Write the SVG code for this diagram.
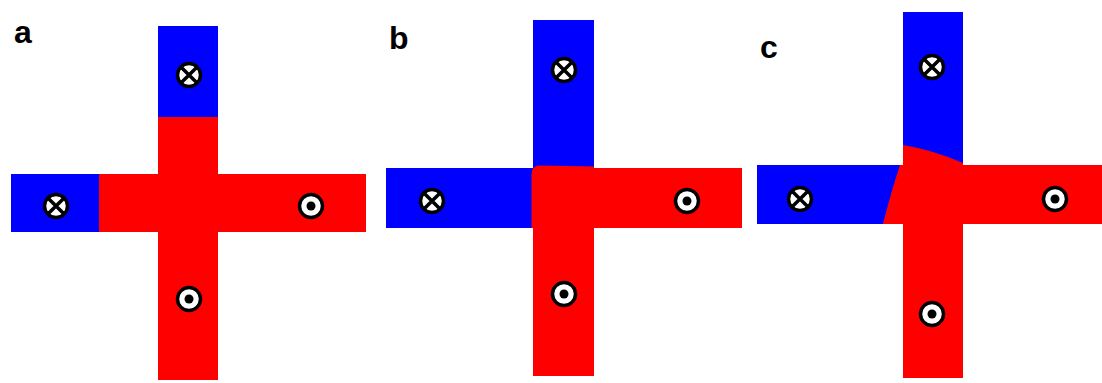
<svg xmlns="http://www.w3.org/2000/svg" width="1102" height="383" viewBox="0 0 1102 383">
<defs>
<style>
.blue{fill:#0000ff}
.red{fill:#ff0000}
.ring{fill:#ffffff;stroke:#000000;stroke-width:3.5}
.x{stroke:#000000;stroke-width:3.5;fill:none}
.dot{fill:#000000}
.lbl{font-family:"Liberation Sans",Arial,sans-serif;font-weight:bold;font-size:32px;fill:#000000}
</style>
<g id="into">
<circle class="ring" cx="0" cy="0" r="11.5"/>
<path class="x" d="M-8.1,-8.1 L8.1,8.1 M8.1,-8.1 L-8.1,8.1"/>
</g>
<g id="outof">
<circle class="ring" cx="0" cy="0" r="11.5"/>
<circle class="dot" cx="0" cy="0" r="4.5"/>
</g>
</defs>
<rect width="1102" height="383" fill="#ffffff"/>

<g id="panel-a">
<text class="lbl" x="14" y="43">a</text>
<rect class="red" x="158" y="116" width="60" height="264"/>
<rect class="red" x="98" y="174" width="268" height="58"/>
<rect class="blue" x="158" y="26" width="60" height="91"/>
<rect class="blue" x="11" y="174" width="88" height="58"/>
<use href="#into" x="189" y="75"/>
<use href="#into" x="56" y="206"/>
<use href="#outof" x="311" y="206"/>
<use href="#outof" x="189" y="299"/>
</g>

<g id="panel-b">
<text class="lbl" x="389" y="49">b</text>
<rect class="blue" x="533" y="20" width="61" height="152"/>
<rect class="blue" x="386" y="168" width="150" height="60"/>
<path class="red" d="M531.5,228 L531.5,174 Q531.5,165.5 540,165.5 L594,166.5 L594,168 L742,168 L742,228 L594,228 L594,376 L533,376 L533,228 Z"/>
<use href="#into" x="564" y="70"/>
<use href="#into" x="432" y="201"/>
<use href="#outof" x="687" y="201"/>
<use href="#outof" x="564" y="294"/>
</g>

<g id="panel-c">
<text class="lbl" x="760" y="58">c</text>
<rect class="blue" x="903" y="12" width="60" height="156"/>
<rect class="blue" x="757" y="165" width="148" height="59"/>
<path class="red" d="M903,145 Q933,150 963,163 L963,165 L1102,165 L1102,224 L963,224 L963,378 L903,378 L903,224 L883,224 Q891,192 900,165 L903,165 Z"/>
<use href="#into" x="932" y="67"/>
<use href="#into" x="800" y="199"/>
<use href="#outof" x="1055" y="199"/>
<use href="#outof" x="932" y="314"/>
</g>
</svg>
